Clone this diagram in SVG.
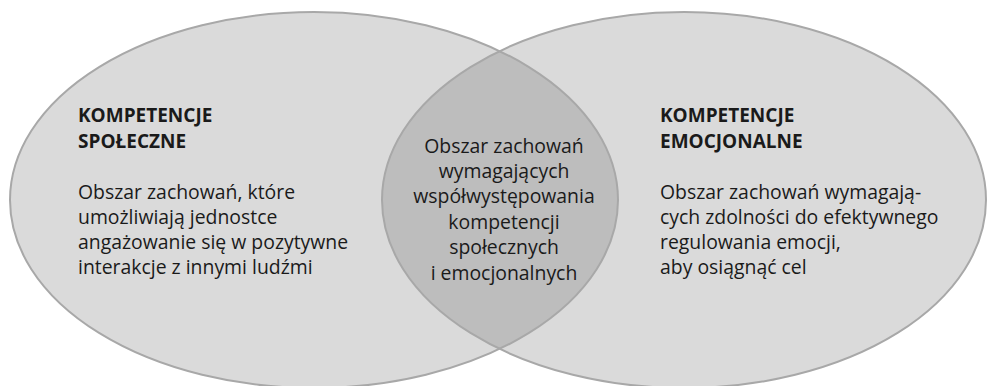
<svg xmlns="http://www.w3.org/2000/svg" width="987" height="386" viewBox="0 0 987 386">
<defs>
<style>
.fill{fill:#dadada;stroke:none}
.ov{fill:#bdbdbd;stroke:none}
.edge{fill:none;stroke:#a8a8a8;stroke-width:2}
text{font-family:"Open Sans","Noto Sans",sans-serif;font-size:19.4px;fill:#1a1a1a}
.h{font-weight:bold;font-size:19px}
.c{text-anchor:middle}
</style>
<clipPath id="clipL"><ellipse cx="314" cy="200" rx="304" ry="188"/></clipPath>
</defs>
<g id="ellipse-left"><ellipse class="fill" cx="314" cy="200" rx="304" ry="188"/></g>
<g id="ellipse-right"><ellipse class="fill" cx="684" cy="200" rx="302" ry="188"/></g>
<g id="overlap"><ellipse class="ov" cx="684" cy="200" rx="302" ry="188" clip-path="url(#clipL)"/></g>
<g id="outlines">
<ellipse class="edge" cx="314" cy="200" rx="304" ry="188"/>
<ellipse class="edge" cx="684" cy="200" rx="302" ry="188"/>
</g>
<g id="label-left">
<text class="h" x="78" y="122">KOMPETENCJE</text>
<text class="h" x="78" y="148">SPOŁECZNE</text>
<text x="78" y="199">Obszar zachowań, które</text>
<text x="78" y="224">umożliwiają jednostce</text>
<text x="78" y="249">angażowanie się w pozytywne</text>
<text x="78" y="274">interakcje z innymi ludźmi</text>
</g>
<g id="label-center">
<text class="c" x="504" y="153">Obszar zachowań</text>
<text class="c" x="504" y="178">wymagających</text>
<text class="c" x="504" y="203">współwystępowania</text>
<text class="c" x="504" y="229">kompetencji</text>
<text class="c" x="504" y="254">społecznych</text>
<text class="c" x="504" y="280">i emocjonalnych</text>
</g>
<g id="label-right">
<text class="h" x="660" y="122">KOMPETENCJE</text>
<text class="h" x="660" y="148">EMOCJONALNE</text>
<text x="660" y="199">Obszar zachowań wymagają-</text>
<text x="660" y="224">cych zdolności do efektywnego</text>
<text x="660" y="249">regulowania emocji,</text>
<text x="660" y="274">aby osiągnąć cel</text>
</g>
</svg>
